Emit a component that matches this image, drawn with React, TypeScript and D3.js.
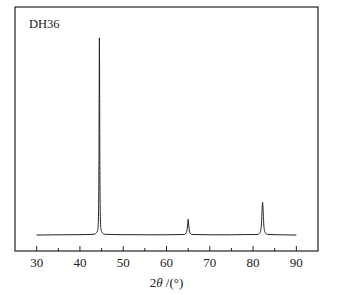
import * as d3 from 'd3';

// XRD pattern of DH36 (2θ in degrees, intensity in arbitrary units)
const twoTheta = [
  30, 36, 40, 43.3, 43.85, 44.15, 44.3, 44.4, 44.5, 44.6, 44.7, 44.85, 45.15, 45.7,
  50, 55, 60, 64.2, 64.6, 64.8, 64.92, 65.0, 65.08, 65.2, 65.4, 65.8,
  70, 75, 81.1, 81.6, 81.9, 82.05, 82.2, 82.35, 82.5, 82.8, 83.3, 86, 90,
];
const intensity = [
  0, 0.3, 0.4, 0.8, 2.5, 6, 22, 75, 198, 75, 22, 6, 2.5, 0.8,
  0.4, 0.3, 0.3, 0.6, 2.5, 7, 12, 16, 12, 7, 2.5, 0.6,
  0.3, 0.3, 0.6, 2.5, 9, 22, 33, 22, 9, 2.5, 0.6, 0.3, 0,
];
const xTicks = [30, 40, 50, 60, 70, 80, 90];
const xMinorTicks = [35, 45, 55, 65, 75, 85];
const sampleLabel = 'DH36';

export default function App() {
  const width = 340;
  const height = 295;
  const margin = { top: 7, right: 22, bottom: 44, left: 15 };
  const plotW = width - margin.left - margin.right;
  const plotH = height - margin.top - margin.bottom;

  const x = d3.scaleLinear().domain([25, 95]).range([0, plotW]);
  const y = d3.scaleLinear().domain([-16, 229]).range([plotH, 0]);

  const pts = twoTheta.map((t, i) => [t, intensity[i]] as [number, number]);
  const line = d3
    .line<[number, number]>()
    .x((d) => x(d[0]))
    .y((d) => y(d[1]))
    .curve(d3.curveMonotoneX);

  const font = '"Liberation Serif", "Times New Roman", serif';
  const ink = '#222';

  return (
    <svg
      width={width}
      height={height}
      style={{ position: 'absolute', left: 0, top: 0, background: '#fff' }}
    >
      <g transform={`translate(${margin.left},${margin.top})`}>
        <rect x={0} y={0} width={plotW} height={plotH} fill="none" stroke={ink} strokeWidth={1.2} />
        {xTicks.map((t) => (
          <g key={t} transform={`translate(${x(t)},0)`}>
            <line y1={plotH} y2={plotH - 5} stroke={ink} strokeWidth={1} />
            <text
              y={plotH + 16}
              textAnchor="middle"
              fontFamily={font}
              fontSize={13}
              fill={ink}
            >
              {t}
            </text>
          </g>
        ))}
        {xMinorTicks.map((t) => (
          <line key={t} x1={x(t)} x2={x(t)} y1={plotH} y2={plotH - 3} stroke={ink} strokeWidth={1} />
        ))}
        <path d={line(pts) ?? ''} fill="none" stroke={ink} strokeWidth={1} />
        <text x={14} y={21} fontFamily={font} fontSize={12.5} fill={ink}>
          {sampleLabel}
        </text>
        <text
          x={x(60)}
          y={plotH + 36}
          textAnchor="middle"
          fontFamily={font}
          fontSize={13}
          fill={ink}
        >
          2<tspan fontStyle="italic">θ</tspan> /(°)
        </text>
      </g>
    </svg>
  );
}
